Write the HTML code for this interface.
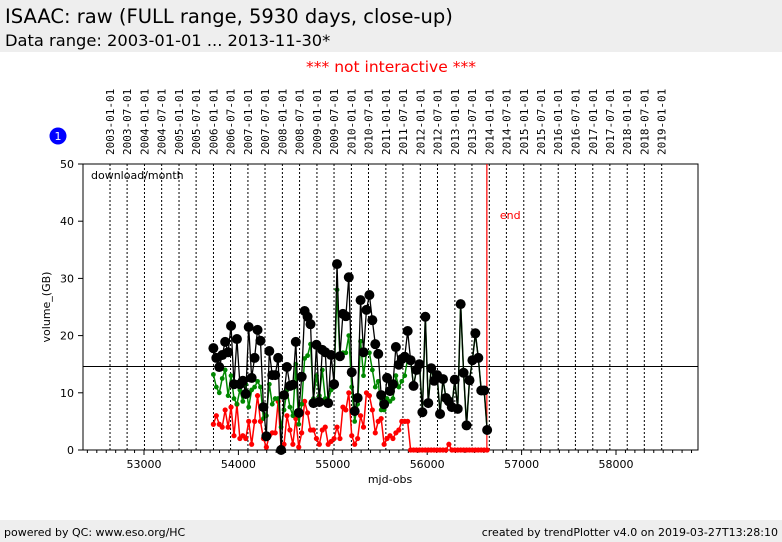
<!DOCTYPE html>
<html><head><meta charset="utf-8"><style>
body{margin:0;width:782px;height:542px;background:#fff;font-family:"DejaVu Sans","Liberation Sans",sans-serif;overflow:hidden;position:relative}
.hdr{position:absolute;left:0;top:0;width:782px;height:52px;background:#eeeeee}
.t1{position:absolute;left:5px;top:5px;font-size:19.5px}
.t2{position:absolute;left:5px;top:31px;font-size:16.3px}
.ni{position:absolute;left:0;width:782px;top:58px;text-align:center;color:#f00;font-size:15.5px}
.ftr{position:absolute;left:0;top:520px;width:782px;height:22px;background:#eeeeee;font-size:11px}
</style></head><body>
<div class="hdr">
<div class="t1">ISAAC: raw (FULL range, 5930 days, close-up)</div>
<div class="t2">Data range: 2003-01-01 ... 2013-11-30*</div>
</div>
<div class="ni">*** not interactive ***</div>
<svg id="chart" width="782" height="542" style="position:absolute;left:0;top:0"></svg>
<div class="ftr">
<span style="position:absolute;left:4px;top:6px">powered by QC: www.eso.org/HC</span>
<span style="position:absolute;right:4px;top:6px">created by trendPlotter v4.0 on 2019-03-27T13:28:10</span>
</div>
<script>
const blackVals=[17.8,16.1,14.5,16.6,18.9,17.1,21.7,11.5,19.4,11.5,12.1,9.8,21.5,12.6,16.1,21.0,19.1,7.5,2.4,17.3,13.1,13.1,16.1,0,9.6,14.5,11.2,11.4,18.9,6.5,12.8,24.3,23.3,22.0,8.2,18.4,8.4,17.5,17.1,8.2,16.6,11.5,32.5,16.4,23.8,23.4,30.2,13.6,6.8,9.1,26.2,17.1,24.5,27.1,22.7,18.5,16.8,9.6,8.0,12.6,10.3,11.5,18.0,14.9,15.9,16.3,20.8,15.7,11.2,14.0,15.0,6.6,23.3,8.2,14.3,12.1,13.1,6.3,12.4,9.1,8.5,7.5,12.3,7.2,25.5,13.5,4.3,12.2,15.7,20.4,16.1,10.4,10.4,3.5];
const greenHead=[13.2,11,10,12.5,14,9.5,13,9,8,10.5,8.5,11.5,7.5,10.5,11,12,11,5.5,6,11.5,8,9,9,4,7,10.5,7.5,6,15,4.5,8,16,16.5,18.5,9,13,9.5,14,9,8.5,10.5,12,28,16,17,17,20,11,5,8,19,13,17,17,14,11,12,7,7,9,8.5,9,13,11,12,13,16];
const redVals=[4.5,6,4.5,4,7,4,7.5,2.5,8,2,2.5,2,5,1,5,9.5,5,2,0.5,2.5,3,3,8.5,0.5,1,6,3.5,1,5.5,0.5,3,8.5,6.5,3.5,3.5,2,1,3.5,4,1,1.5,2,4,2,7.5,7,10,2.5,1,2,6,4,10,9.5,7,3,5,5.5,1,2,2.5,2,3,3.5,5,5,5,0,0,0,0,0,0,0,0,0,0,0,0,0,1.0,0,0,0,0,0,0,0,0,0,0,0,0,0];
const mjdStart=53735, mjdEnd=56635;
const yTicks=[0,10,20,30,40,50];
const xTicks=[53000,54000,55000,56000,57000,58000];
const meanLine=14.6, endMjd=56632;
const greenVals=greenHead.concat(blackVals.slice(greenHead.length));
const N=blackVals.length;
const mjds=blackVals.map((_,i)=>mjdStart+i*(mjdEnd-mjdStart)/(N-1));

const svg=document.getElementById('chart');
const NS='http://www.w3.org/2000/svg';
const L=83,R=698,T=164,B=450;
const X=m=>144+(m-53000)*0.0944;
const Y=v=>B-(v/50)*(B-T);
function el(t,a,p){const e=document.createElementNS(NS,t);for(const k in a)e.setAttribute(k,a[k]);(p||svg).appendChild(e);return e;}

const mjd0=Date.UTC(1858,10,17);
for(let yr=2003;yr<=2019;yr++){for(const mo of [0,6]){
  if(yr==2019&&mo==6)continue;
  const m=(Date.UTC(yr,mo,1)-mjd0)/86400000;const x=X(m);
  const ln=el('line',{x1:x,x2:x,y1:T,y2:B,stroke:'#000','stroke-width':1,'stroke-dasharray':'2,2'});
  
  
  const s=yr+'-'+(mo?'07':'01')+'-01';
  const t=el('text',{x:0,y:0,transform:`translate(${x+4},155) rotate(-90)`,'font-size':11,'font-family':'DejaVu Sans Mono, Liberation Mono, monospace'});
  t.textContent=s;
  
  
}}
const fr=el('rect',{x:L,y:T,width:R-L,height:B-T,fill:'none',stroke:'#000','stroke-width':1});


yTicks.forEach(v=>{const y=Y(v);el('line',{x1:L-5,x2:L,y1:y,y2:y,stroke:'#000'});
  const t=el('text',{x:L-9,y:y+4,'text-anchor':'end','font-size':11});t.textContent=v;
  
  });
for(let m=52400;m<=58800;m+=100){const x=X(m);if(x<L||x>R)continue;el('line',{x1:x,x2:x,y1:B,y2:B+(m%1000==0?5:3),stroke:'#000'});}
xTicks.forEach(m=>{const t=el('text',{x:X(m),y:B+18,'text-anchor':'middle','font-size':11});t.textContent=m;
  
  });
const xt=el('text',{x:390,y:483,'text-anchor':'middle','font-size':11});xt.textContent='mjd-obs';


const yt=el('text',{x:0,y:0,transform:'translate(50,307) rotate(-90)','text-anchor':'middle','font-size':11});yt.textContent='volume_(GB)';


const dm=el('text',{x:91,y:179,'font-size':11});dm.textContent='download/month';


const ml=el('line',{x1:L,x2:R,y1:Y(meanLine),y2:Y(meanLine),stroke:'#000'});


const eln=el('line',{x1:X(endMjd),x2:X(endMjd),y1:T,y2:B,stroke:'#f00','stroke-width':1.2});


const et=el('text',{x:X(endMjd)+13,y:219,fill:'#f00','font-size':11});et.textContent='end';


function series(vals,color,r,name,lw){
  const g=el('g',{});
  el('polyline',{points:vals.map((v,i)=>X(mjds[i])+','+Y(v)).join(' '),fill:'none',stroke:color,'stroke-width':lw},g);
  vals.forEach((v,i)=>{const c=el('circle',{cx:X(mjds[i]),cy:Y(v),r:r,fill:color},g);
    
    });
}
series(redVals,'#ff0000',2.6,'red-series',1.5);
series(greenVals,'#008800',2.4,'green-series',1.5);
series(blackVals,'#000',5,'black-series',1.3);
const bc=el('circle',{cx:58,cy:136,r:8.5,fill:'#0000ff'});


const bt=el('text',{x:58,y:140,'text-anchor':'middle','font-size':11,fill:'#fff'});bt.textContent='1';


</script>
</body></html>
